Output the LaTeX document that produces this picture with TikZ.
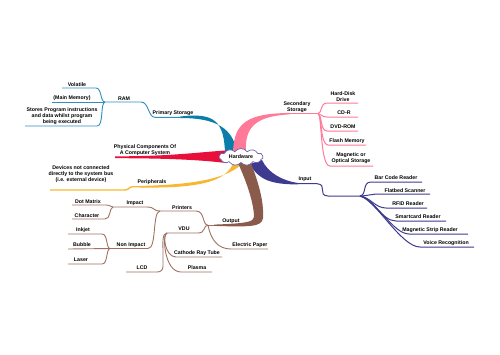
\documentclass[tikz,border=0pt]{standalone}
\usepackage{fontspec}
\setmainfont{Liberation Sans}
\usetikzlibrary{shapes.symbols}
\definecolor{cteal}{HTML}{0A7EA8}
\definecolor{ctealL}{HTML}{2C8FC0}
\definecolor{cpink}{HTML}{FF7A98}
\definecolor{cred}{HTML}{E8103A}
\definecolor{cyel}{HTML}{F8B732}
\definecolor{cind}{HTML}{3E3A8F}
\definecolor{cbrown}{HTML}{8A5A4A}
\definecolor{cbrownL}{HTML}{9E7262}
\definecolor{ccloud}{HTML}{6B62B0}
\begin{document}
\begin{tikzpicture}[x=1pt,y=-1pt,
  lbl/.style={font=\fontsize{5.25}{6}\selectfont\bfseries, inner sep=0pt, align=center},
  tl/.style={draw=ctealL, line width=0.9pt},
  pl/.style={draw=cpink, line width=1pt},
  il/.style={draw=cind, line width=1pt},
  bl/.style={draw=cbrownL, line width=0.9pt},
  yl/.style={draw=cyel, line width=1.4pt}]
\useasboundingbox (0,0) rectangle (500,354);

% ---------- coordinates ----------
\coordinate (ps) at (181,117.3);
\coordinate (ram) at (105,102);
\coordinate (vol) at (62,88);
\coordinate (mm) at (52,102);
\coordinate (sp) at (25,126);
\coordinate (ss) at (290,113.6);
\coordinate (ssj) at (318,113.6);
\coordinate (hd) at (358,103);
\coordinate (cdr) at (358,117);
\coordinate (dvd) at (358,131);
\coordinate (fm) at (366,145);
\coordinate (mo) at (373,166);
\coordinate (pc) at (115,157.2);
\coordinate (per) at (140,186.7);
\coordinate (perE) at (50,190);
\coordinate (inp) at (298,183.7);
\coordinate (inj) at (360,196);
\coordinate (bcr) at (422,182);
\coordinate (fbs) at (430,194);
\coordinate (rfid) at (427,208);
\coordinate (scr) at (446,221);
\coordinate (msr) at (468,234);
\coordinate (vr) at (474,247);
\coordinate (out) at (214,225.2);
\coordinate (outj) at (208,225.2);
\coordinate (prj) at (160,211);
\coordinate (vduj) at (167,233);
\coordinate (ep) at (268,249);
\coordinate (impj) at (113,207);
\coordinate (nij) at (110,248.5);
\coordinate (dm) at (72,205);
\coordinate (ch) at (72,219);
\coordinate (ink) at (68,234);
\coordinate (bub) at (68,249);
\coordinate (las) at (68,264);
\coordinate (lcd) at (126,272);
\coordinate (crt) at (222,257);
\coordinate (pla) at (212,272);

% ---------- thick main branches ----------
% teal primary storage
\fill[cteal] (225,153) .. controls (224,122) and (215,112) .. (180,116.6) -- (180,118) .. controls (205,118) and (233,122) .. (237,153) -- cycle;
% pink secondary storage
\fill[cpink] (233,152) .. controls (234,122) and (248,113.5) .. (290,112.9) -- (290,114.3) .. controls (260,116) and (244,124) .. (246,152) -- cycle;
% red physical components
\fill[cred] (115,156.3) .. controls (170,156.5) and (200,152) .. (226,150.5) -- (226,163) .. controls (205,160.5) and (175,158.2) .. (115,158.2) -- cycle;
% yellow peripherals
\fill[cyel] (243,163) .. controls (232,174) and (210,184.5) .. (140,185.9) -- (140,187.5) .. controls (205,188.5) and (225,180) .. (233,164) -- cycle;
% indigo input
\fill[cind] (250,164) .. controls (258,180) and (272,184.5) .. (298,184.4) -- (298,183) .. controls (283,181) and (268,173) .. (262,160) -- cycle;
% brown output
\fill[cbrown] (238,163) .. controls (248,185) and (254,205) .. (254,217) .. controls (254,222) and (245,223.5) .. (214,224.6) -- (214,225.9) .. controls (250,227) and (262,227) .. (263,218) .. controls (264,200) and (258,182) .. (251,163) -- cycle;

% ---------- teal sub-branches ----------
\draw[tl] (ps) -- (155,117.3) .. controls (148,117.3) and (149,102) .. (141,102) -- (ram);
\draw[tl] (ram) .. controls (100,102) and (102,88) .. (96,88) -- (vol);
\draw[tl] (ram) -- (mm);
\draw[tl] (ram) .. controls (100,103) and (104,126) .. (97,126) -- (sp);

% ---------- pink sub-branches ----------
\draw[pl] (ss) -- (ssj);
\draw[pl] (ssj) .. controls (322,113.6) and (320,103) .. (327,103) -- (hd);
\draw[pl] (ssj) .. controls (322,113.6) and (321,117) .. (327,117) -- (cdr);
\draw[pl] (ssj) .. controls (322,114) and (320,131) .. (327,131) -- (dvd);
\draw[pl] (ssj) .. controls (322,114) and (320,145) .. (328,145) -- (fm);
\draw[pl] (ssj) .. controls (322,114) and (320,166) .. (330,166) -- (mo);

% ---------- yellow line ----------
\draw[yl] (per) -- (133,186.7) .. controls (129,186.7) and (129,190) .. (125,190) -- (perE);

% ---------- indigo sub-branches ----------
\draw[il] (inp) -- (317,183.7) .. controls (328,184.5) and (317,195.5) .. (328,196) -- (inj);
\draw[il] (inj) .. controls (367,195) and (362,182) .. (371,182) -- (bcr);
\draw[il] (inj) .. controls (370,195.5) and (371,194) .. (380,194) -- (fbs);
\draw[il] (inj) .. controls (370,197) and (375,208) .. (386,208) -- (rfid);
\draw[il] (inj) .. controls (372,198) and (382,221) .. (396,221) -- (scr);
\draw[il] (inj) .. controls (375,199) and (393,234) .. (409,234) -- (msr);
\draw[il] (inj) .. controls (376,200) and (401,247) .. (420,247) -- (vr);

% ---------- brown sub-branches ----------
\draw[bl] (out) -- (outj);
\draw[bl] (outj) .. controls (202,225) and (205,211) .. (196,211) -- (prj);
\draw[bl] (outj) .. controls (203,225) and (206,233) .. (198,233) -- (vduj);
\draw[bl] (outj) .. controls (211,240) and (218,249) .. (231,249) -- (ep);
\draw[bl] (prj) .. controls (153,211) and (155,207) .. (147,207) -- (impj);
\draw[bl] (prj) .. controls (152,212) and (157,248.5) .. (148,248.5) -- (nij);
\draw[bl] (impj) .. controls (110,207) and (111,205) .. (106,205) -- (dm);
\draw[bl] (impj) .. controls (109,208) and (111,219) .. (105,219) -- (ch);
\draw[bl] (nij) .. controls (106,248.5) and (108,234) .. (102,234) -- (ink);
\draw[bl] (nij) -- (bub);
\draw[bl] (nij) .. controls (106,249) and (108,264) .. (102,264) -- (las);
\draw[bl] (vduj) .. controls (162,234) and (163,240) .. (163,255) -- (163,266) .. controls (163,270) and (161,272) .. (157,272) -- (lcd);
\draw[bl] (vduj) .. controls (162,234) and (165,257) .. (176,257) -- (crt);
\draw[bl] (vduj) .. controls (162,234) and (164,272) .. (181,272) -- (pla);

% ---------- central cloud ----------
\node[cloud, cloud puffs=11, cloud puff arc=110, aspect=2.8, draw=ccloud, fill=white, line width=0.7pt, minimum width=44pt, minimum height=17pt, inner sep=0pt] (hw) at (241,157) {};
\node[lbl, font=\fontsize{5.3}{6}\selectfont\bfseries] (hwt) at (hw.center) {Hardware};

% ---------- labels ----------
\node[lbl] (tps) at (173,113) {Primary Storage};
\node[lbl] (tram) at (124,98.5) {RAM};
\node[lbl] (tvol) at (77,84.5) {Volatile};
\node[lbl] (tmm) at (72,98.5) {(Main Memory)};
\node[lbl] (tsp) at (62,116) {Stores Program instructions\\and data whilst program\\being executed};
\node[lbl] (tpc) at (145,150) {Physical Components Of\\A Computer System};
\node[lbl] (tdev) at (81,174) {Devices not connected\\directly to the system bus\\(i.e. external device)};
\node[lbl] (tper) at (152,182.5) {Peripherals};
\node[lbl] (tss) at (297,107) {Secondary\\Storage};
\node[lbl] (thd) at (343,96.5) {Hard-Disk\\Drive};
\node[lbl] (tcdr) at (344,113) {CD-R};
\node[lbl] (tdvd) at (343,127) {DVD-ROM};
\node[lbl] (tfm) at (347,141) {Flash Memory};
\node[lbl] (tmo) at (351,158.5) {Magnetic or\\Optical Storage};
\node[lbl] (tinp) at (305,179.5) {Input};
\node[lbl] (tbcr) at (396,177.5) {Bar Code Reader};
\node[lbl] (tfbs) at (405,190.5) {Flatbed Scanner};
\node[lbl] (trfid) at (408,203.5) {RFID Reader};
\node[lbl] (tscr) at (418,216.5) {Smartcard\ Reader};
\node[lbl] (tmsr) at (430,230) {Magnetic Strip Reader};
\node[lbl] (tvr) at (446,243) {Voice Recognition};
\node[lbl] (tout) at (231,221.5) {Output};
\node[lbl] (tep) at (250,245) {Electric Paper};
\node[lbl] (tpr) at (182,207.5) {Printers};
\node[lbl] (timp) at (135,203.5) {Impact};
\node[lbl] (tni) at (131,245) {Non Impact};
\node[lbl] (tdm) at (88,202) {Dot Matrix};
\node[lbl] (tch) at (87,215.5) {Character};
\node[lbl] (tink) at (83,230.5) {Inkjet};
\node[lbl] (tbub) at (82,245) {Bubble};
\node[lbl] (tlas) at (81,259.5) {Laser};
\node[lbl] (tvdu) at (184,229) {VDU};
\node[lbl] (tcrt) at (197,253) {Cathode Ray Tube};
\node[lbl] (tlcd) at (142,268) {LCD};
\node[lbl] (tpla) at (197,268) {Plasma};
\end{tikzpicture}
\end{document}
